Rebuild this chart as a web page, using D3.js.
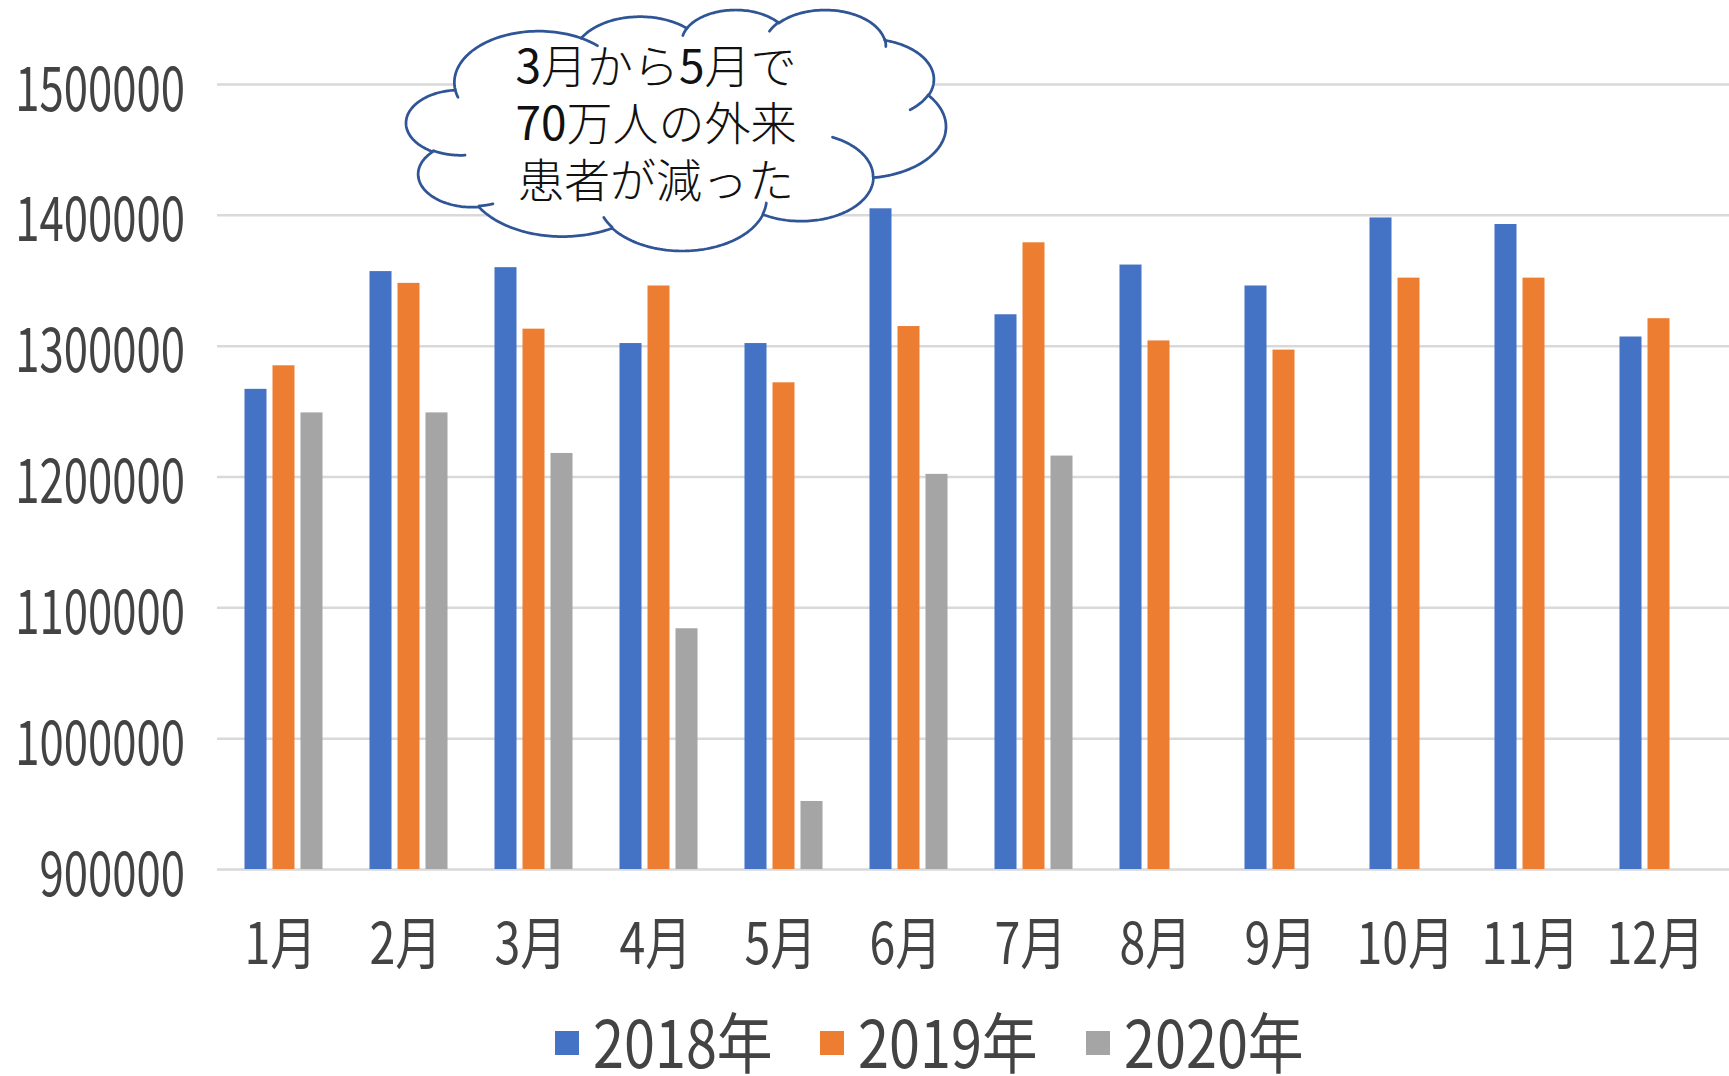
<!DOCTYPE html>
<html>
<head>
<meta charset="utf-8">
<script src="https://cdn.jsdelivr.net/npm/d3@7"></script>
<style>
  html, body { margin: 0; padding: 0; background: #fff; }
  svg { display: block; }
  text { font-family: "Noto Sans CJK JP", "Noto Sans", sans-serif; }
</style>
</head>
<body>
<svg id="chart" width="1729" height="1076"></svg>
<script>
// Monthly outpatient counts, 2018–2020
const months = ["1月", "2月", "3月", "4月", "5月", "6月", "7月", "8月", "9月", "10月", "11月", "12月"];
const seriesNames = ["2018年", "2019年", "2020年"];
const values2018 = [1267000, 1357000, 1360000, 1302000, 1302000, 1405000, 1324000, 1362000, 1346000, 1398000, 1393000, 1307000];
const values2019 = [1285000, 1348000, 1313000, 1346000, 1272000, 1315000, 1379000, 1304000, 1297000, 1352000, 1352000, 1321000];
const values2020 = [1249000, 1249000, 1218000, 1084000, 952000, 1202000, 1216000, null, null, null, null, null];
const yTicks = [900000, 1000000, 1100000, 1200000, 1300000, 1400000, 1500000];
const calloutLines = [["3", "月から", "5", "月で"], ["70", "万人の外来"], ["患者が減った"]];

const colors = { "2018年": "#4472C4", "2019年": "#ED7D31", "2020年": "#A5A5A5" };
const seriesValues = { "2018年": values2018, "2019年": values2019, "2020年": values2020 };

const svg = d3.select("#chart");
const W = 1729, H = 1076;
svg.append("rect").attr("width", W).attr("height", H).attr("fill", "#fff");

const y = d3.scaleLinear().domain([900000, 1500000]).range([869, 84]);
const x0 = d3.scaleBand().domain(months).range([221, 1721]).paddingInner(0.328).paddingOuter(0.164);
const x1 = d3.scaleBand().domain(seriesNames).range([0, x0.bandwidth()]).paddingInner(0.214).paddingOuter(0.107);

// gridlines
const grid = svg.append("g").attr("transform", "translate(217,0)")
  .call(d3.axisRight(y).tickValues(yTicks).tickSize(W - 217).tickFormat(""));
grid.select(".domain").remove();
grid.selectAll("line").attr("stroke", "#d9d9d9").attr("stroke-width", 2.5);

// y-axis labels
const yAxis = svg.append("g").attr("transform", "translate(185,0)")
  .call(d3.axisLeft(y).tickValues(yTicks).tickSize(0).tickPadding(0).tickFormat(d3.format("d")));
yAxis.select(".domain").remove();
yAxis.selectAll("text")
  .attr("x", 0).attr("y", 0).attr("dy", null)
  .attr("text-anchor", "end")
  .attr("font-size", 52)
  .attr("fill", "#434343")
  .attr("transform", "translate(0,26) scale(0.84,1.18)");

// bars
const rows = months.map((m, i) => ({ month: m, items: seriesNames.map(s => ({ s, v: seriesValues[s][i] })) }));
const groups = svg.append("g").selectAll("g").data(rows).join("g")
  .attr("transform", d => `translate(${x0(d.month)},0)`);
groups.selectAll("rect").data(d => d.items.filter(it => it.v != null)).join("rect")
  .attr("x", d => x1(d.s))
  .attr("width", x1.bandwidth())
  .attr("y", d => y(d.v))
  .attr("height", d => y(900000) - y(d.v))
  .attr("fill", d => colors[d.s]);

// x-axis labels
const xAxis = svg.append("g").attr("transform", `translate(0,${y(900000)})`)
  .call(d3.axisBottom(x0).tickSize(0).tickPadding(0));
xAxis.select(".domain").remove();
xAxis.selectAll("text")
  .attr("y", 0).attr("dy", null)
  .attr("text-anchor", "middle")
  .attr("font-size", 54)
  .attr("fill", "#434343")
  .attr("transform", "translate(-3,95) scale(0.86,1.05)");

// legend
const legendX = [555, 820, 1086];
const legend = svg.append("g").selectAll("g").data(seriesNames).join("g")
  .attr("transform", (d, i) => `translate(${legendX[i]},0)`);
legend.append("rect").attr("x", 0).attr("y", 1031).attr("width", 24).attr("height", 24)
  .attr("fill", d => colors[d]);
legend.append("text")
  .attr("transform", "translate(38,1068) scale(0.93,1.1)")
  .attr("font-size", 60)
  .attr("fill", "#434343")
  .text(d => d);

// cloud callout (DrawingML "cloud" preset geometry, 43200 x 43200 path space)
const cloudOutline = {
  start: [3900, 14370],
  arcs: [
    [6753, 9190, -11429249, 7426832],
    [5333, 7267, -8646143, 5396714],
    [4365, 5945, -8748475, 5983381],
    [4857, 6595, -7859164, 7034504],
    [5333, 7273, -4722533, 6541615],
    [6775, 9220, -2776035, 7816140],
    [5785, 7867, 37501, 6842000],
    [6752, 9215, 1347096, 6910353],
    [7720, 10543, 3974558, 4542661],
    [4360, 5918, -16496525, 8804134],
    [4345, 5945, -14809710, 9151131]
  ]
};
const cloudInner = [
  [[4693, 26177], [4345, 5945, 5204520, 1585770]],
  [[6928, 34899], [4360, 5918, 4416628, 686848]],
  [[16478, 39090], [6752, 9215, 8257449, 844866]],
  [[28827, 34751], [6752, 9215, 387196, 959901]],
  [[34129, 22954], [5785, 7867, -4217541, 4255042]],
  [[41798, 15354], [5333, 7273, 1819082, 1665090]],
  [[38324, 5426], [4857, 6595, -824660, 891534]],
  [[29078, 3952], [4857, 6595, -8950887, 1091722]],
  [[22141, 4720], [4365, 5945, -9809656, 1061181]],
  [[14000, 5192], [6753, 9190, -4002417, 739161]],
  [[4127, 15789], [6753, 9190, 9459261, 711490]]
];

// elliptical arc in path space; angles are visual angles in 1/60000 degree
function arcPts(p, wR, hR, stAng, swAng) {
  const st = stAng / 60000 * Math.PI / 180;
  const sw = swAng / 60000 * Math.PI / 180;
  const par = a => Math.atan2(wR * Math.sin(a), hR * Math.cos(a));
  const t0 = par(st);
  const cx = p[0] - wR * Math.cos(t0), cy = p[1] - hR * Math.sin(t0);
  let t1 = par(st + sw);
  while (sw > 0 && t1 < t0) t1 += 2 * Math.PI;
  while (sw < 0 && t1 > t0) t1 -= 2 * Math.PI;
  const pts = [];
  const n = 60;
  for (let i = 1; i <= n; i++) {
    const t = t0 + (t1 - t0) * i / n;
    pts.push([cx + wR * Math.cos(t), cy + hR * Math.sin(t)]);
  }
  return pts;
}

let cur = cloudOutline.start.slice();
const outlinePath = [cur];
cloudOutline.arcs.forEach(a => {
  const pts = arcPts(cur, a[0], a[1], a[2], a[3]);
  outlinePath.push(...pts);
  cur = pts[pts.length - 1];
});
const innerPaths = cloudInner.map(([s, a]) => [s, ...arcPts(s, a[0], a[1], a[2], a[3])]);

// map path space onto the callout's box
const box = { x0: 406, x1: 946, y0: 10, y1: 251 };
const cx = d3.scaleLinear().domain(d3.extent(outlinePath, d => d[0])).range([box.x0, box.x1]);
const cy = d3.scaleLinear().domain(d3.extent(outlinePath, d => d[1])).range([box.y0, box.y1]);
const cloudLine = d3.line().x(d => cx(d[0])).y(d => cy(d[1]));
const cloudG = svg.append("g");
cloudG.append("path").attr("d", cloudLine(outlinePath) + "Z")
  .attr("fill", "#fff").attr("stroke", "#2F5597").attr("stroke-width", 2.75).attr("stroke-linejoin", "round");
cloudG.selectAll("path.inner").data(innerPaths).join("path").attr("class", "inner")
  .attr("d", d => cloudLine(d))
  .attr("fill", "none").attr("stroke", "#2F5597").attr("stroke-width", 2.75).attr("stroke-linecap", "round");

// callout text
const baselines = [83, 140, 197];
const ct = svg.append("g").selectAll("text").data(calloutLines).join("text")
  .attr("x", 656).attr("y", (d, i) => baselines[i])
  .attr("text-anchor", "middle")
  .attr("font-size", 46)
  .attr("fill", "#111");
ct.selectAll("tspan").data(d => d).join("tspan")
  .attr("font-weight", t => /^[0-9]+$/.test(t) ? 400 : 300)
  .text(t => t);
</script>
</body>
</html>
